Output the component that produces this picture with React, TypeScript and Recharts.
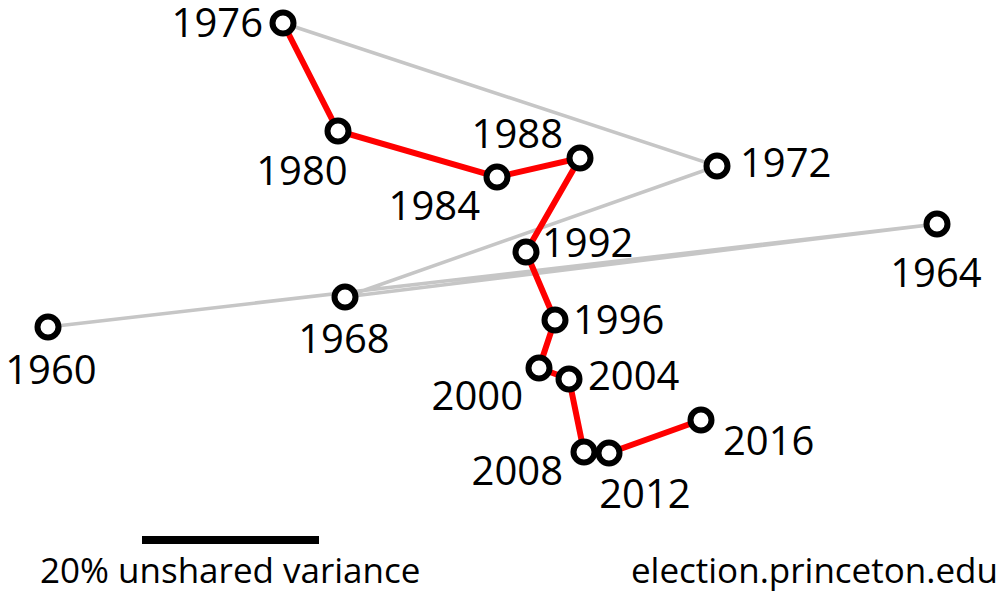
import { ScatterChart, Scatter, XAxis, YAxis, ReferenceLine } from "recharts";

// positions (picture units, y grows downward)
const years = [1960, 1964, 1968, 1972, 1976, 1980, 1984, 1988, 1992, 1996, 2000, 2004, 2008, 2012, 2016];
const xs = [48, 937, 345, 717, 283, 338, 497, 580, 526, 555, 539, 569, 584, 609, 701];
const ys = [327, 224, 297, 166, 23, 131, 177, 158, 252, 320, 368, 379, 452, 453, 420];

const points = years.map((year, i) => ({ year, x: xs[i], y: ys[i] }));
const earlyYears = points.filter(p => p.year <= 1976);
const lateYears = points.filter(p => p.year >= 1976);

// label placement relative to each marker: dx, dy (baseline), anchor
const LABEL_POS: Record<number, [number, number, string]> = {
  1960: [3, 57, "middle"],
  1964: [-1, 63, "middle"],
  1968: [-1, 56, "middle"],
  1972: [23, 11, "start"],
  1976: [-20, 14, "end"],
  1980: [-36, 54, "middle"],
  1984: [-17, 43, "end"],
  1988: [-17, -10, "end"],
  1992: [16, 5, "start"],
  1996: [18, 14, "start"],
  2000: [-16, 42, "end"],
  2004: [19, 11, "start"],
  2008: [-21, 33, "end"],
  2012: [36, 55, "middle"],
  2016: [22, 35, "start"],
};

const FONT = "'Open Sans', 'Noto Sans', sans-serif";

const YearMarker = (props: any) => {
  const { cx, cy, payload } = props;
  const [dx, dy, anchor] = LABEL_POS[payload.year] ?? [15, 10, "start"];
  return (
    <g>
      <circle cx={cx} cy={cy} r={10.5} fill="#fff" stroke="#000" strokeWidth={6} />
      <text x={cx + dx} y={cy + dy} textAnchor={anchor} fontSize={40} fontFamily={FONT} fill="#000">
        {payload.year}
      </text>
    </g>
  );
};

const NoMarker = () => <g />;

export default function App() {
  return (
    <div style={{ position: "absolute", left: 0, top: 0, width: 1000, height: 594, background: "#fff" }}>
      <ScatterChart width={1000} height={594} margin={{ top: 0, right: 0, bottom: 0, left: 0 }} style={{ overflow: "visible" }}>
        <XAxis type="number" dataKey="x" domain={[0, 1000]} hide />
        <YAxis type="number" dataKey="y" domain={[0, 594]} reversed hide />
        <Scatter data={earlyYears} line={{ stroke: "#c6c6c6", strokeWidth: 3.5 }} shape={NoMarker} isAnimationActive={false} />
        <Scatter data={lateYears} line={{ stroke: "#ff0000", strokeWidth: 6 }} shape={NoMarker} isAnimationActive={false} />
        <Scatter data={points} shape={YearMarker} isAnimationActive={false} />
        <ReferenceLine segment={[{ x: 142, y: 540 }, { x: 319, y: 540 }]} stroke="#000" strokeWidth={8} ifOverflow="visible" />
      </ScatterChart>
      <div style={{ position: "absolute", left: 40, top: 550, fontSize: 35, fontFamily: FONT, lineHeight: "40px", whiteSpace: "nowrap" }}>
        20% unshared variance
      </div>
      <div style={{ position: "absolute", right: 2, top: 550, fontSize: 35, fontFamily: FONT, lineHeight: "40px", whiteSpace: "nowrap" }}>
        election.princeton.edu
      </div>
    </div>
  );
}
